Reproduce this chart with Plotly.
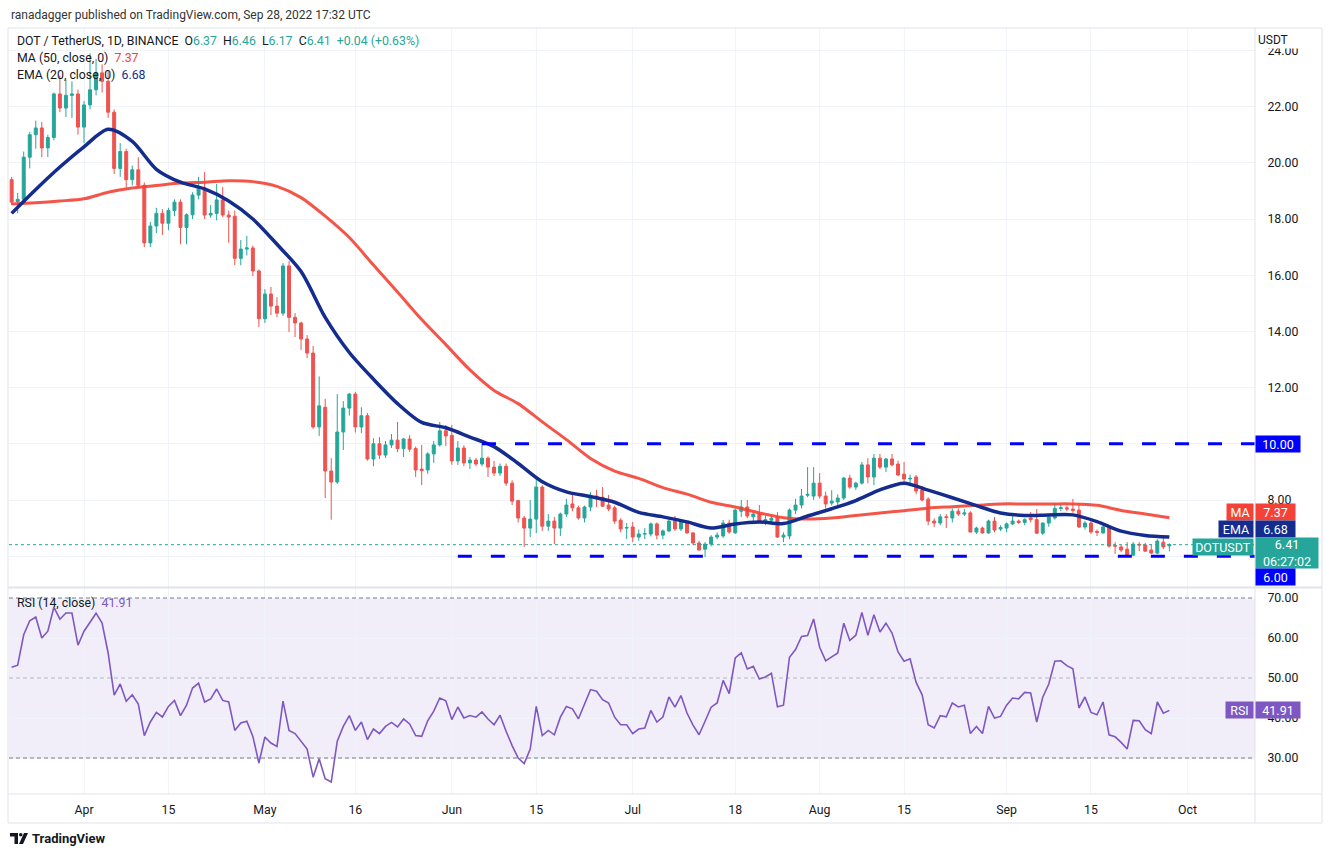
import pandas as pd
import plotly.graph_objects as go

# DOT/USDT daily candles, 20 Mar - 28 Sep 2022
dates = pd.date_range("2022-03-20", "2022-09-28", freq="D")

opens = [
    19.40, 18.62, 18.70, 20.20, 21.00, 21.24, 20.53, 20.90, 22.45, 21.95, 22.40, 22.45,
    21.27, 22.06, 22.60, 23.20, 22.90, 21.80, 19.80, 20.40, 19.40, 19.75,
    19.20, 17.15, 17.75, 18.20, 17.85, 18.30, 18.60, 17.70, 18.15, 18.85,
    19.05, 18.14, 18.20, 18.68, 18.14, 18.10, 16.60, 16.93, 16.97, 16.15,
    14.45, 15.33, 14.90, 14.65, 16.33, 14.50, 14.30, 13.73, 13.23, 10.60,
    11.30, 9.03, 8.64, 10.42, 11.27, 11.77, 10.60, 11.00, 9.46, 10.00,
    9.60, 9.96, 10.13, 9.83, 10.17, 9.83, 9.10, 9.07, 9.64, 9.96,
    10.46, 10.30, 9.39, 9.85, 9.32, 9.42, 9.28, 9.49, 9.17, 8.96,
    9.20, 8.60, 7.98, 7.36, 7.00, 7.32, 8.46, 7.07, 7.25, 7.00,
    7.50, 7.86, 7.72, 7.36, 7.75, 8.14, 8.10, 7.82, 7.72, 7.28,
    7.00, 7.04, 6.68, 6.79, 6.79, 7.15, 6.75, 6.90, 7.25, 6.97,
    7.22, 6.83, 6.47, 6.25, 6.43, 6.68, 6.72, 7.18, 6.83, 7.60,
    7.75, 7.40, 7.50, 7.25, 7.28, 7.40, 6.68, 6.72, 7.64, 7.82,
    8.17, 8.14, 8.60, 8.14, 7.89, 7.93, 8.07, 8.78, 8.46, 8.60,
    9.25, 8.82, 9.49, 9.17, 9.46, 9.28, 8.92, 8.75, 8.82, 8.36,
    8.03, 7.25, 7.18, 7.40, 7.36, 7.60, 7.50, 7.54, 6.86, 7.00,
    6.83, 7.25, 6.97, 7.00, 7.15, 7.25, 7.20, 7.36, 7.30, 6.82,
    7.18, 7.36, 7.70, 7.72, 7.68, 7.64, 7.04, 7.18, 6.88, 6.83,
    7.04, 6.38, 6.33, 6.25, 6.04, 6.42, 6.40, 6.22, 6.11, 6.50, 6.37,
]
highs = [
    19.50, 18.93, 20.40, 21.10, 21.50, 21.45, 21.00, 22.50, 23.10, 22.95, 22.90, 22.60,
    22.20, 23.90, 23.70, 23.50, 23.30, 21.90, 20.70, 20.50, 19.90, 20.20,
    19.30, 17.90, 18.40, 18.35, 18.40, 18.70, 18.70, 18.20, 18.95, 19.50,
    19.67, 18.50, 19.25, 19.14, 18.30, 18.30, 17.25, 17.40, 17.05, 16.20,
    15.50, 15.58, 15.22, 16.43, 16.50, 14.65, 14.35, 13.87, 13.48, 12.40,
    11.60, 9.49, 11.77, 11.52, 11.80, 11.85, 11.30, 11.10, 10.20, 10.24,
    10.10, 10.35, 10.78, 10.20, 10.31, 9.90, 9.96, 9.70, 10.10, 10.78,
    10.67, 10.67, 10.10, 9.95, 9.53, 9.50, 10.00, 9.55, 9.39, 9.30,
    9.30, 8.70, 8.00, 7.43, 8.00, 8.75, 8.53, 7.50, 7.40, 7.55,
    8.04, 8.25, 7.80, 7.80, 8.28, 8.36, 8.46, 8.18, 7.80, 7.35,
    7.18, 7.22, 6.95, 7.00, 7.20, 7.20, 6.95, 7.30, 7.43, 7.25,
    7.25, 6.85, 6.55, 6.50, 6.75, 6.85, 7.29, 7.30, 7.70, 8.00,
    8.00, 7.60, 7.82, 7.45, 7.45, 7.57, 6.85, 7.70, 8.04, 8.39,
    9.17, 9.17, 8.96, 8.30, 8.35, 8.20, 8.82, 8.90, 8.65, 9.35,
    9.49, 9.64, 9.64, 9.50, 9.64, 9.40, 9.35, 8.90, 8.89, 8.50,
    8.10, 7.35, 7.50, 7.50, 7.70, 7.70, 7.68, 7.60, 7.05, 7.05,
    7.30, 7.40, 7.10, 7.20, 7.54, 7.30, 7.35, 7.57, 7.68, 7.20,
    7.45, 7.89, 7.85, 7.80, 8.04, 7.89, 7.25, 7.25, 6.95, 7.10,
    7.10, 6.50, 6.40, 6.50, 6.50, 6.50, 6.47, 6.43, 6.60, 6.75, 6.46,
]
lows = [
    18.50, 18.20, 18.60, 19.80, 20.50, 20.20, 20.20, 20.80, 21.80, 21.63, 21.60, 21.00,
    20.70, 21.90, 22.40, 22.50, 21.60, 19.60, 19.50, 19.10, 19.20, 19.10,
    17.00, 17.00, 17.50, 17.43, 17.60, 18.10, 17.10, 17.10, 18.00, 18.70,
    18.00, 18.04, 17.95, 18.07, 17.15, 16.36, 16.35, 16.70, 15.97, 14.15,
    14.30, 14.58, 14.50, 14.55, 13.98, 13.80, 13.34, 13.05, 10.53, 10.28,
    8.07, 7.30, 8.57, 9.78, 11.00, 10.40, 10.38, 9.40, 9.20, 9.46,
    9.50, 9.85, 9.70, 9.53, 9.71, 8.82, 8.53, 8.93, 9.32, 9.90,
    9.92, 9.25, 9.25, 9.20, 9.10, 9.20, 9.20, 8.82, 8.85, 8.85,
    8.50, 7.82, 7.20, 6.33, 6.68, 6.82, 6.90, 6.90, 6.43, 6.72,
    7.40, 7.60, 7.30, 7.20, 7.60, 7.75, 7.75, 7.60, 7.15, 6.85,
    6.61, 6.50, 6.55, 6.61, 6.70, 6.60, 6.60, 6.85, 6.90, 6.90,
    6.80, 6.40, 6.20, 5.97, 6.35, 6.60, 6.65, 6.80, 6.80, 7.40,
    7.35, 7.20, 7.20, 7.10, 7.15, 6.65, 6.50, 6.60, 7.50, 7.70,
    8.10, 8.00, 8.05, 7.70, 7.80, 7.75, 8.00, 8.40, 8.36, 8.55,
    8.60, 8.53, 9.10, 9.00, 9.20, 8.85, 8.60, 8.60, 8.20, 7.95,
    7.10, 7.04, 7.10, 7.00, 7.20, 7.43, 7.43, 6.85, 6.79, 6.80,
    6.80, 6.85, 6.90, 6.85, 7.10, 7.15, 7.10, 7.20, 6.80, 6.75,
    7.05, 7.30, 7.60, 7.60, 7.55, 7.00, 6.95, 6.80, 6.72, 6.80,
    6.30, 6.08, 6.15, 5.97, 6.00, 6.18, 6.15, 6.08, 6.08, 6.25, 6.17,
]
closes = [
    18.60, 18.70, 20.20, 21.00, 21.24, 20.53, 20.90, 22.45, 21.95, 22.40, 22.45, 21.27,
    22.06, 22.60, 23.20, 22.90, 21.80, 19.80, 20.40, 19.40, 19.75, 19.20,
    17.15, 17.75, 18.20, 17.85, 18.30, 18.60, 17.70, 18.15, 18.85, 19.10,
    18.14, 18.20, 18.68, 18.14, 18.07, 16.60, 16.93, 16.97, 16.15, 14.45,
    15.33, 14.90, 14.65, 16.33, 14.50, 14.30, 13.73, 13.23, 10.60, 11.35,
    9.03, 8.64, 10.42, 11.27, 11.77, 10.60, 11.00, 9.46, 10.00, 9.60,
    9.96, 10.13, 9.83, 10.17, 9.81, 9.07, 9.05, 9.64, 9.96, 10.46,
    10.28, 9.39, 9.85, 9.32, 9.42, 9.28, 9.49, 9.17, 8.96, 9.20,
    8.60, 7.96, 7.36, 7.00, 7.32, 8.46, 7.07, 7.25, 7.00, 7.50,
    7.82, 7.72, 7.36, 7.75, 8.14, 8.10, 7.78, 7.68, 7.25, 6.97,
    7.02, 6.68, 6.79, 6.80, 7.15, 6.75, 6.90, 7.25, 6.97, 7.22,
    6.83, 6.47, 6.22, 6.43, 6.68, 6.75, 7.18, 6.86, 7.64, 7.75,
    7.43, 7.50, 7.22, 7.30, 7.35, 6.68, 6.75, 7.64, 7.82, 8.14,
    8.20, 8.60, 8.14, 7.86, 7.96, 8.07, 8.78, 8.46, 8.60, 9.25,
    8.82, 9.49, 9.17, 9.46, 9.25, 8.89, 8.75, 8.77, 8.32, 8.00,
    7.25, 7.18, 7.40, 7.38, 7.60, 7.50, 7.54, 6.86, 7.00, 6.83,
    7.25, 6.93, 7.02, 7.15, 7.25, 7.20, 7.30, 7.30, 6.82, 7.18,
    7.39, 7.70, 7.72, 7.68, 7.63, 7.04, 7.18, 6.86, 6.85, 7.04,
    6.36, 6.36, 6.22, 6.04, 6.43, 6.40, 6.18, 6.11, 6.54, 6.33, 6.41,
]

# RSI(14) per day
rsi14 = [
    52.7, 53.2, 60.8, 64.3, 65.25, 60.0, 61.7, 67.7, 64.7, 66.25, 66.25, 58.2,
    61.7, 63.9, 66.2, 63.75, 56.25, 45.7, 48.5, 44.2, 45.8, 43.5,
    35.6, 39.0, 41.4, 40.25, 42.9, 44.4, 40.6, 43.2, 47.5, 48.7,
    44.0, 44.75, 47.25, 44.4, 44.0, 36.9, 38.75, 39.2, 35.4, 28.75,
    35.25, 33.75, 32.9, 44.2, 36.9, 36.1, 34.2, 32.25, 25.2, 29.8,
    24.8, 24.0, 34.2, 37.9, 40.6, 36.9, 39.0, 34.6, 37.25, 36.1,
    37.9, 38.9, 37.75, 39.75, 38.5, 35.6, 35.4, 39.3, 41.7, 45.0,
    44.3, 39.6, 42.75, 40.0, 40.6, 40.2, 41.5, 39.75, 38.3, 40.7,
    36.7, 33.1, 30.0, 28.6, 32.25, 42.9, 35.6, 36.9, 35.8, 40.2,
    42.9, 42.3, 39.8, 43.5, 47.1, 46.7, 44.6, 43.75, 40.2, 38.3,
    38.3, 36.1, 37.25, 37.5, 41.9, 39.0, 40.25, 45.25, 42.7, 45.6,
    41.25, 38.2, 35.8, 39.2, 42.7, 43.75, 49.4, 46.1, 55.0, 56.3,
    52.25, 52.9, 49.75, 50.25, 51.2, 42.8, 43.2, 55.2, 57.1, 60.4,
    60.6, 64.75, 57.7, 54.3, 55.2, 56.25, 63.7, 59.4, 60.7, 66.4,
    60.7, 65.8, 61.5, 63.7, 61.25, 56.5, 54.2, 54.8, 48.9, 45.8,
    38.3, 37.5, 40.6, 40.3, 43.75, 42.75, 43.2, 36.1, 37.9, 36.1,
    42.9, 40.0, 40.4, 43.2, 45.0, 44.8, 46.4, 46.25, 39.0, 45.2,
    48.5, 54.2, 54.3, 53.1, 52.3, 42.5, 45.25, 41.4, 40.8, 44.0,
    35.8, 35.3, 33.9, 32.25, 39.4, 39.3, 37.1, 36.1, 44.0, 41.2, 41.91,
]

# moving averages, read every 4th day
line_dates = dates[::4]
ma50 = [
    18.53, 18.58, 18.64, 18.72, 18.95, 19.10, 19.19, 19.28, 19.31, 19.36,
    19.33, 19.16, 18.76, 18.10, 17.34, 16.36, 15.40, 14.42, 13.53, 12.63,
    11.90, 11.43, 10.78, 10.15, 9.48, 9.03, 8.77, 8.44, 8.21, 7.92,
    7.75, 7.54, 7.37, 7.32, 7.36, 7.45, 7.54, 7.62, 7.71, 7.76,
    7.81, 7.86, 7.86, 7.86, 7.86, 7.81, 7.63, 7.50, 7.37,
]
ema20 = [
    18.20, 19.05, 19.85, 20.57, 21.19, 20.76, 19.77, 19.31, 19.07, 18.64,
    18.00, 17.10, 16.13, 14.50, 13.25, 12.30, 11.43, 10.76, 10.57, 10.24,
    9.90, 9.30, 8.65, 8.29, 8.12, 7.92, 7.56, 7.40, 7.22, 7.00,
    7.15, 7.22, 7.16, 7.43, 7.69, 7.98, 8.36, 8.60, 8.35, 8.08,
    7.80, 7.54, 7.45, 7.47, 7.47, 7.23, 6.89, 6.74, 6.68,
]

assert len(opens) == len(highs) == len(lows) == len(closes) == len(rsi14) == len(dates)
assert len(ma50) == len(ema20) == len(line_dates)

levels = [10.0, 6.0]
level_starts = ["2022-06-06", "2022-06-02"]
last_close = 6.41

price_ticks = [6, 8, 10, 12, 14, 16, 18, 20, 22, 24]
rsi_ticks = [30, 40, 50, 60, 70]
time_ticks = ["2022-04-01", "2022-04-15", "2022-05-01", "2022-05-16", "2022-06-01",
              "2022-06-15", "2022-07-01", "2022-07-18", "2022-08-01", "2022-08-15",
              "2022-09-01", "2022-09-15", "2022-10-01"]
time_labels = ["Apr", "15", "May", "16", "Jun", "15", "Jul", "18", "Aug", "15", "Sep", "15", "Oct"]

x_start, x_end = "2022-03-19 13:26", "2022-10-12 04:48"

GREEN = "#26a69a"
RED = "#ef5350"
MA_RED = "#f44336"
NAVY = "#132c8e"
BLUE = "#0000ff"
PURPLE = "#7e57c2"
TEXT = "#131722"
GRID = "#f0f3fa"
BORDER = "#e0e3eb"
FONT = "Roboto, Open Sans, sans-serif"

# pixel helpers for the plot box (left 9, right 1255, top 28, bottom 794)
PL, PR, PT, PB = 9, 1255, 28, 794


def px(x):
    return (x - PL) / (PR - PL)


def py(y):
    return (PB - y) / (PB - PT)


fig = go.Figure()

fig.add_trace(go.Scatter(
    x=[x_start, x_end], y=[last_close, last_close], mode="lines",
    line=dict(color=GREEN, width=1, dash="dot"), hoverinfo="skip",
))

fig.add_trace(go.Candlestick(
    x=dates, open=opens, high=highs, low=lows, close=closes,
    increasing=dict(line=dict(color=GREEN, width=1), fillcolor=GREEN),
    decreasing=dict(line=dict(color=RED, width=1), fillcolor=RED),
    whiskerwidth=0, hoverinfo="skip",
))

fig.add_trace(go.Scatter(
    x=line_dates, y=ma50, mode="lines",
    line=dict(color=MA_RED, width=3, shape="spline", smoothing=0.8), opacity=0.9,
))
fig.add_trace(go.Scatter(
    x=line_dates, y=ema20, mode="lines",
    line=dict(color=NAVY, width=3.5, shape="spline", smoothing=0.8),
))

for lvl, start in zip(levels, level_starts):
    fig.add_trace(go.Scatter(
        x=[start, x_end], y=[lvl, lvl], mode="lines",
        line=dict(color=BLUE, width=3, dash="14px,19px"), hoverinfo="skip",
    ))

fig.add_trace(go.Scatter(
    x=dates, y=rsi14, mode="lines", xaxis="x2", yaxis="y2",
    line=dict(color=PURPLE, width=1.6),
))

shapes = [
    # RSI band and levels
    dict(type="rect", xref="paper", yref="y2", x0=0, x1=1, y0=30, y1=70,
         fillcolor="rgba(126,87,194,0.1)", line=dict(width=0), layer="below"),
    dict(type="line", xref="paper", yref="y2", x0=0, x1=1, y0=70, y1=70,
         line=dict(color="#787b86", width=1, dash="4px,3px")),
    dict(type="line", xref="paper", yref="y2", x0=0, x1=1, y0=50, y1=50,
         line=dict(color="rgba(120,123,134,0.5)", width=1, dash="4px,3px")),
    dict(type="line", xref="paper", yref="y2", x0=0, x1=1, y0=30, y1=30,
         line=dict(color="#787b86", width=1, dash="4px,3px")),
    # frame
    dict(type="rect", xref="paper", yref="paper", x0=px(8), x1=px(1322), y0=py(823), y1=py(28),
         line=dict(color=BORDER, width=1)),
    dict(type="line", xref="paper", yref="paper", x0=1, x1=1, y0=py(823), y1=py(28),
         line=dict(color=BORDER, width=1)),
    dict(type="line", xref="paper", yref="paper", x0=px(8), x1=px(1322), y0=py(587.5), y1=py(587.5),
         line=dict(color=BORDER, width=2)),
    dict(type="line", xref="paper", yref="paper", x0=px(8), x1=px(1322), y0=0, y1=0,
         line=dict(color=BORDER, width=1)),
    # TradingView logo
    dict(type="path", xref="paper", yref="paper", fillcolor=TEXT, line=dict(width=0),
         path=f"M {px(10)},{py(833)} L {px(18)},{py(833)} L {px(18)},{py(844)} "
              f"L {px(14.5)},{py(844)} L {px(14.5)},{py(836.5)} L {px(10)},{py(836.5)} Z"),
    dict(type="circle", xref="paper", yref="paper", fillcolor=TEXT, line=dict(width=0),
         x0=px(19), x1=px(22.5), y0=py(836.5), y1=py(833)),
    dict(type="path", xref="paper", yref="paper", fillcolor=TEXT, line=dict(width=0),
         path=f"M {px(19)},{py(844)} L {px(24)},{py(833)} L {px(28)},{py(833)} "
              f"L {px(23)},{py(844)} Z"),
]

annotations = [
    dict(xref="paper", yref="paper", x=px(9), y=py(15), xanchor="left", yanchor="middle",
         text="ranadagger published on TradingView.com, Sep 28, 2022 17:32 UTC",
         showarrow=False, font=dict(size=12, color="#333333")),
    dict(xref="paper", yref="paper", x=px(15), y=py(41), xanchor="left", yanchor="middle",
         text=(f"DOT / TetherUS, 1D, BINANCE  O<span style='color:{GREEN}'>6.37</span>"
               f"  H<span style='color:{GREEN}'>6.46</span>  L<span style='color:{GREEN}'>6.17</span>"
               f"  C<span style='color:{GREEN}'>6.41</span>  <span style='color:{GREEN}'>+0.04 (+0.63%)</span>"),
         showarrow=False, font=dict(size=12.3, color=TEXT)),
    dict(xref="paper", yref="paper", x=px(15), y=py(58), xanchor="left", yanchor="middle",
         text=f"MA (50, close, 0)  <span style='color:{MA_RED}'>7.37</span>",
         showarrow=False, font=dict(size=12.3, color=TEXT)),
    dict(xref="paper", yref="paper", x=px(15), y=py(75), xanchor="left", yanchor="middle",
         text=f"EMA (20, close, 0)  <span style='color:{NAVY}'>6.68</span>",
         showarrow=False, font=dict(size=12.3, color=TEXT)),
    dict(xref="paper", yref="paper", x=px(15), y=py(603), xanchor="left", yanchor="middle",
         text=f"RSI (14, close)  <span style='color:{PURPLE}'>41.91</span>",
         showarrow=False, font=dict(size=12.3, color=TEXT)),
    dict(xref="paper", yref="paper", x=1, y=py(40), xanchor="left", yanchor="middle", xshift=2,
         text="USDT", showarrow=False, font=dict(size=12, color=TEXT),
         bgcolor="white", width=60, height=17, align="left", borderpad=0),
    dict(xref="paper", yref="paper", x=px(30), y=py(838), xanchor="left", yanchor="middle",
         text="<b>TradingView</b>", showarrow=False, font=dict(size=13, color=TEXT)),
]


def value_box(y, text, color, width, yshift=0, height=14, ref="y"):
    return dict(xref="paper", yref=ref, x=1, y=y, xanchor="left", yanchor="middle",
                yshift=yshift, text=text, showarrow=False, bgcolor=color,
                font=dict(size=12.5, color="white"), width=width, height=height,
                align="center", borderpad=1)


def name_box(y, text, color, width, yshift=0, ref="y"):
    return dict(xref="paper", yref=ref, x=1, y=y, xanchor="right", yanchor="middle",
                xshift=-1, yshift=yshift, text=text, showarrow=False, bgcolor=color,
                font=dict(size=12.5, color="white"), width=width, height=14,
                align="center", borderpad=1)


annotations += [
    value_box(10.0, "10.00", BLUE, 42),
    name_box(7.37, "MA", MA_RED, 24, yshift=6),
    value_box(7.37, "7.37", MA_RED, 37, yshift=6),
    name_box(6.68, "EMA", NAVY, 32, yshift=8),
    value_box(6.68, "6.68", NAVY, 37, yshift=8),
    name_box(last_close, "DOTUSDT", GREEN, 58, yshift=-2),
    value_box(last_close, "6.41<br>06:27:02", GREEN, 60, yshift=-8, height=28),
    value_box(6.0, "6.00", BLUE, 37, yshift=-21),
    name_box(41.91, "RSI", PURPLE, 25, ref="y2"),
    value_box(41.91, "41.91", PURPLE, 42, ref="y2"),
]

# price levels that carry their own coloured box get no plain tick text
boxed_ticks = [6, 10]

fig.update_layout(
    width=1332, height=857,
    margin=dict(l=PL, r=1332 - PR, t=PT, b=857 - PB),
    paper_bgcolor="white", plot_bgcolor="white",
    showlegend=False, hovermode=False,
    font=dict(family=FONT, size=12, color=TEXT),
    xaxis=dict(domain=[0, 1], anchor="y", type="date", range=[x_start, x_end],
               tickvals=time_ticks, showticklabels=False, showgrid=True, gridcolor=GRID,
               zeroline=False, showline=False, rangeslider=dict(visible=False)),
    xaxis2=dict(domain=[0, 1], anchor="y2", type="date", range=[x_start, x_end], matches="x",
                tickvals=time_ticks, ticktext=time_labels, showgrid=True, gridcolor=GRID,
                zeroline=False, showline=False, ticks="outside", ticklen=4,
                tickcolor="rgba(0,0,0,0)", tickfont=dict(size=12.3, color=TEXT)),
    yaxis=dict(domain=[py(587), 1], anchor="x", side="right", range=[4.904, 24.797],
               tickvals=price_ticks,
               ticktext=["" if t in boxed_ticks else f"{t:.2f}" for t in price_ticks],
               showgrid=True, gridcolor=GRID, zeroline=False, showline=False,
               ticks="outside", ticklen=9, tickcolor="rgba(0,0,0,0)",
               tickfont=dict(size=12.3, color=TEXT)),
    yaxis2=dict(domain=[0, py(588)], anchor="x2", side="right", range=[21, 72.5],
                tickvals=rsi_ticks, ticktext=[f"{t:.2f}" for t in rsi_ticks],
                showgrid=True, gridcolor=GRID, zeroline=False, showline=False,
                ticks="outside", ticklen=9, tickcolor="rgba(0,0,0,0)",
                tickfont=dict(size=12.3, color=TEXT)),
    shapes=shapes,
    annotations=annotations,
)

# the page's default body margin would push the figure 8px right and down
fig.write_html("out.html", config={"displayModeBar": False},
               post_script="document.body.style.margin = '0';")
